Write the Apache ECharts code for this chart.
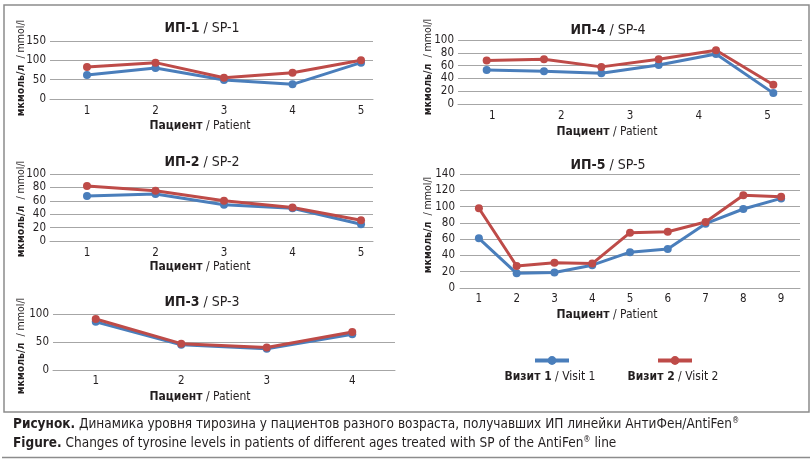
<!DOCTYPE html>
<html><head><meta charset="utf-8">
<script src="https://cdn.jsdelivr.net/npm/echarts@6/dist/echarts.min.js"></script>
<style>html,body{margin:0;padding:0;background:#fff}#c{width:812px;height:462px}</style>
</head><body><div id="c"></div>
<script>
// ---- data ----
const p1Cats = ['1','2','3','4','5'];
const p1Visit1 = [62, 80, 49, 38, 94];
const p1Visit2 = [83, 94, 55, 68, 100];
const p2Cats = ['1','2','3','4','5'];
const p2Visit1 = [67, 70, 54, 49, 25];
const p2Visit2 = [82, 75, 60, 50, 31];
const p3Cats = ['1','2','3','4'];
const p3Visit1 = [86, 45, 38, 64];
const p3Visit2 = [91, 47, 40, 68];
const p4Labels = ['1','2','3','4','5'];
const p4Points = ['p1','p2','p3','p4','p5','p6'];
const p4Visit1 = [53, 51, 48, 61, 78, 17];
const p4Visit2 = [68, 70, 58, 70, 84, 30];
const p5Cats = ['1','2','3','4','5','6','7','8','9'];
const p5Visit1 = [61, 18, 19, 28, 44, 48, 79, 97, 110];
const p5Visit2 = [98, 27, 31, 30, 68, 69, 81, 114, 112];
const v1Name = 'Визит 1 / Visit 1';
const v2Name = 'Визит 2 / Visit 2';

const FONT = "'Liberation Sans Narrow', 'DejaVu Sans Condensed', 'Roboto', sans-serif";
const TXT = '#231f20';
const GRID = '#a6a6a6';
const BLUE = '#4a7ebb';
const RED = '#be4b48';
const TICK = 11.5;

const chart = echarts.init(document.getElementById('c'), null, {renderer: 'canvas'});

function yAx(gi, max, interval, margin) {
  return {
    type: 'value', gridIndex: gi, min: 0, max: max, interval: interval,
    axisLine: {show: false}, axisTick: {show: false},
    splitLine: {lineStyle: {color: GRID, width: 1}},
    axisLabel: {fontFamily: FONT, fontSize: TICK, color: TXT, margin: margin || 4}
  };
}
function xVal(gi, cats, min, max, margin) {
  return {
    type: 'value', gridIndex: gi, min: min, max: max, position: 'bottom',
    axisLine: {show: true, onZero: false, lineStyle: {color: GRID}},
    axisTick: {show: false}, splitLine: {show: false},
    axisLabel: {fontFamily: FONT, fontSize: TICK, color: TXT, margin: margin,
      customValues: cats.map(Number), hideOverlap: false}
  };
}
function xCat(gi, cats, margin, show) {
  return {
    type: 'category', gridIndex: gi, data: cats, boundaryGap: true, show: show !== false,
    position: 'bottom',
    axisLine: {show: true, lineStyle: {color: GRID}},
    axisTick: {show: false}, splitLine: {show: false},
    axisLabel: {fontFamily: FONT, fontSize: TICK, color: TXT, margin: margin, interval: 0}
  };
}
function ser(name, color, xi, yi, data) {
  return {
    type: 'line', name: name, xAxisIndex: xi, yAxisIndex: yi, data: data,
    symbol: 'circle', symbolSize: 8, showSymbol: true,
    lineStyle: {color: color, width: 3}, itemStyle: {color: color},
    emphasis: {disabled: true}, animation: false
  };
}
const pairs = (cats, vals) => cats.map((c, i) => [Number(c), vals[i]]);

function rt(x, y, text, size, extra) {
  return Object.assign({type: 'text', x: x, y: y, style: {
    text: text, fill: TXT,
    font: size + 'px ' + FONT, align: 'center', verticalAlign: 'middle',
    textAlign: 'center', textVerticalAlign: 'middle',
    rich: {b: {fontWeight: 'bold', fontSize: size, fontFamily: FONT, fill: TXT, color: TXT}}
  }}, extra || {});
}
const title = (x, y, a, b) => rt(x, y, '{b|' + a + '} / ' + b, 14);
const xName = (x, y) => rt(x, y, '{b|Пациент} / Patient', 12);
const yName = (x, y) => rt(x, y, '{b|мкмоль/л}  / mmol/l', 10.5, {rotation: Math.PI / 2});
const legText = (x, y, a, b) => rt(x, y, '{b|' + a + '} / ' + b, 12);

const option = {
  backgroundColor: '#fff',
  animation: false,
  grid: [
    {left: 50, top: 41, width: 323, height: 58},
    {left: 50, top: 174, width: 323, height: 67},
    {left: 53, top: 314, width: 342, height: 56},
    {left: 458, top: 40, width: 344, height: 64},
    {left: 460, top: 174, width: 340, height: 114}
  ],
  xAxis: [
    xVal(0, p1Cats, 0.46, 5.175, 6),
    xVal(1, p2Cats, 0.46, 5.175, 6),
    xCat(2, p3Cats, 5),
    xCat(3, p4Points, 6, false),
    xCat(3, p4Labels, 6),
    xCat(4, p5Cats, 5)
  ],
  yAxis: [
    yAx(0, 150, 50), yAx(1, 100, 20), yAx(2, 100, 50), yAx(3, 100, 20), yAx(4, 140, 20, 5)
  ],
  legend: [
    {data: [v1Name], left: 533, top: 355, padding: 0, itemWidth: 34, itemHeight: 11, itemGap: 0,
     formatter: () => '', selectedMode: false, textStyle: {fontSize: 1},
     lineStyle: {width: 4}},
    {data: [v2Name], left: 656, top: 355, padding: 0, itemWidth: 34, itemHeight: 11, itemGap: 0,
     formatter: () => '', selectedMode: false, textStyle: {fontSize: 1},
     lineStyle: {width: 4}}
  ],
  series: [
    ser(v1Name, BLUE, 0, 0, pairs(p1Cats, p1Visit1)),
    ser(v2Name, RED, 0, 0, pairs(p1Cats, p1Visit2)),
    ser(v1Name, BLUE, 1, 1, pairs(p2Cats, p2Visit1)),
    ser(v2Name, RED, 1, 1, pairs(p2Cats, p2Visit2)),
    ser(v1Name, BLUE, 2, 2, p3Visit1),
    ser(v2Name, RED, 2, 2, p3Visit2),
    ser(v1Name, BLUE, 3, 3, p4Visit1),
    ser(v2Name, RED, 3, 3, p4Visit2),
    ser(v1Name, BLUE, 5, 4, p5Visit1),
    ser(v2Name, RED, 5, 4, p5Visit2)
  ],
  graphic: [
    {type: 'rect', shape: {x: 4, y: 5, width: 805, height: 407}, style: {fill: 'none', stroke: '#8c8c8c', lineWidth: 1.5}, silent: true},
    {type: 'line', shape: {x1: 2, y1: 457.5, x2: 810, y2: 457.5}, style: {stroke: '#8c8c8c', lineWidth: 1.5}, silent: true},
    title(202, 28, 'ИП-1', 'SP-1'),
    title(202, 162, 'ИП-2', 'SP-2'),
    title(202, 302, 'ИП-3', 'SP-3'),
    title(608, 30, 'ИП-4', 'SP-4'),
    title(608, 165, 'ИП-5', 'SP-5'),
    xName(200, 126), xName(200, 267), xName(200, 397), xName(607, 132), xName(607, 315),
    yName(21, 68), yName(21, 209), yName(21, 346), yName(428, 67), yName(428, 225),
    legText(550, 377, 'Визит 1', 'Visit 1'),
    legText(673, 377, 'Визит 2', 'Visit 2'),
    {type: 'text', x: 13, y: 424, style: {
      text: '{b|Рисунок.} Динамика уровня тирозина у пациентов разного возраста, получавших ИП линейки АнтиФен/AntiFen{s|®}',
      fill: TXT, font: '13.5px ' + FONT, align: 'left', verticalAlign: 'middle', textAlign: 'left', textVerticalAlign: 'middle',
      rich: {b: {fontWeight: 'bold', fontSize: 13.5, fontFamily: FONT, fill: TXT}, s: {fontSize: 8, fontFamily: FONT, fill: TXT, verticalAlign: 'top'}}
    }},
    {type: 'text', x: 13, y: 443, style: {
      text: '{b|Figure.} Changes of tyrosine levels in patients of different ages treated with SP of the AntiFen{s|®} line',
      fill: TXT, font: '13.5px ' + FONT, align: 'left', verticalAlign: 'middle', textAlign: 'left', textVerticalAlign: 'middle',
      rich: {b: {fontWeight: 'bold', fontSize: 13.5, fontFamily: FONT, fill: TXT}, s: {fontSize: 8, fontFamily: FONT, fill: TXT, verticalAlign: 'top'}}
    }}
  ]
};
chart.setOption(option);
</script></body></html>
